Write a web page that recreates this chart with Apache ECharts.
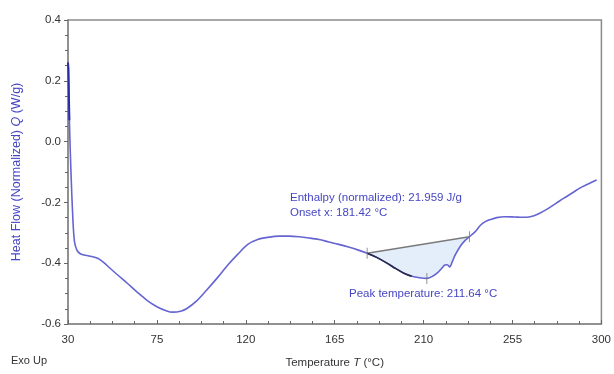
<!DOCTYPE html>
<html><head><meta charset="utf-8">
<script src="https://cdn.jsdelivr.net/npm/echarts@6/dist/echarts.min.js"></script>
<style>html,body{margin:0;padding:0;background:#fff}#c{width:614px;height:374px}</style>
</head><body><div id="c"></div>
<script>
// Temperature (°C)
const temps = [30.0,30.2,30.7,31.5,32.5,33.3,34.5,36,38,42,45,48,51,55,60,65,70,75,80,83,87,90,95,100,106,111,116,121,126,131,137,142,147,152,157,162,167,172,177,181.42,186,191,196,200,204,208,211.64,214,217,219,220.7,222,223.2,224.5,226,228.5,231,233.2,236,238.8,241,244,247,251,256,260,264,268,272.5,277,281,285,289,293,297.6];
// Heat flow (W/g)
const heatFlow = [0.26,0.24,0.07,-0.10,-0.26,-0.33,-0.357,-0.368,-0.373,-0.378,-0.384,-0.397,-0.415,-0.438,-0.466,-0.495,-0.522,-0.543,-0.557,-0.561,-0.558,-0.550,-0.525,-0.490,-0.445,-0.405,-0.370,-0.338,-0.322,-0.315,-0.311,-0.311,-0.313,-0.317,-0.322,-0.330,-0.338,-0.347,-0.357,-0.367,-0.380,-0.398,-0.418,-0.433,-0.443,-0.448,-0.450,-0.445,-0.432,-0.418,-0.406,-0.405,-0.412,-0.395,-0.373,-0.345,-0.325,-0.313,-0.297,-0.275,-0.264,-0.256,-0.250,-0.247,-0.248,-0.249,-0.247,-0.238,-0.222,-0.203,-0.186,-0.170,-0.153,-0.140,-0.126];
// Integration limits and peak
const onsetT = 181.42, endT = 233.2, peakT = 211.64;
const xTicks = [30,75,120,165,210,255,300];
const yTicks = [-0.6,-0.4,-0.2,0.0,0.2,0.4];

const curve = temps.map((t,i)=>[t,heatFlow[i]]);
const region = curve.filter(p=>p[0]>=onsetT && p[0]<=endT);
const onsetPt = region[0], endPt = region[region.length-1];
const peakPt = curve.find(p=>p[0]===peakT);
const darkSeg = curve.filter(p=>p[0]>=onsetT && p[0]<=205);

const chart = echarts.init(document.getElementById('c'));
const blue = '#4646c4';
chart.setOption({
  animation:false,
  grid:{left:68,right:10,top:20,bottom:50,show:true,borderColor:'#8a8a8a',borderWidth:1.5},
  xAxis:{type:'value',min:xTicks[0],max:xTicks[xTicks.length-1],interval:45,
    name:'{n|Temperature }{i|T}{n| (°C)}',nameLocation:'middle',nameGap:33,
    nameTextStyle:{rich:{n:{fontFamily:'Liberation Sans',fontSize:11.5,color:'#333'},i:{fontFamily:'Liberation Sans',fontSize:11.5,color:'#333',fontStyle:'italic'}}},
    axisLine:{onZero:false,lineStyle:{color:'#8a8a8a',width:1.5}},
    axisTick:{inside:true,length:4,lineStyle:{color:'#666'}},
    minorTick:{show:true,splitNumber:4,length:3,lineStyle:{color:'#666'}},
    splitLine:{show:false},
    axisLabel:{fontFamily:'Liberation Sans',fontSize:11.5,color:'#333',margin:10}},
  yAxis:{type:'value',min:yTicks[0],max:yTicks[yTicks.length-1],interval:0.2,
    name:'{n|Heat Flow (Normalized) }{i|Q}{n| (W/g)}',nameLocation:'middle',nameGap:45,nameRotate:90,
    nameTextStyle:{rich:{n:{fontFamily:'Liberation Sans',fontSize:12.5,color:blue},i:{fontFamily:'Liberation Sans',fontSize:12.5,color:blue,fontStyle:'italic'}}},
    axisLine:{onZero:false,lineStyle:{color:'#8a8a8a',width:1.5}},
    axisTick:{inside:false,length:4,lineStyle:{color:'#666'}},
    minorTick:{show:true,splitNumber:4,length:3,lineStyle:{color:'#666'}},
    splitLine:{show:false},
    axisLabel:{fontFamily:'Liberation Sans',fontSize:11.5,color:'#333',margin:7,formatter:v=>v.toFixed(1)}},
  series:[
    {type:'custom',renderItem:(params,api)=>{
        const pts = region.map(p=>api.coord(p));
        return {type:'polygon',shape:{points:pts},style:{fill:'#e4eefa',stroke:null}};
      },data:[[onsetT,onsetPt[1]]],z:1,silent:true},
    {type:'line',data:curve,showSymbol:false,smooth:0.3,lineStyle:{color:'#6464d2',width:1.6},z:3},
    {type:'line',data:curve.slice(0,3),showSymbol:false,lineStyle:{color:'#2c2ca8',width:2},z:3},
    {type:'line',data:[onsetPt,endPt],showSymbol:false,lineStyle:{color:'#7a7a7a',width:1.5},z:4},
    {type:'line',data:darkSeg,showSymbol:false,smooth:0.3,lineStyle:{color:'#2a2a48',width:1.6},z:5},
    {type:'scatter',data:[onsetPt,peakPt,endPt],symbol:'rect',symbolSize:[1,11],itemStyle:{color:'#777'},z:6,silent:true}
  ],
  graphic:[
    {type:'text',left:290,top:190,style:{text:'Enthalpy (normalized): 21.959 J/g\nOnset x: 181.42 °C',fill:blue,font:'11.5px "Liberation Sans"',lineHeight:15}},
    {type:'text',left:349,top:288,style:{text:'Peak temperature: 211.64 °C',fill:blue,font:'11.5px "Liberation Sans"'}},
    {type:'text',left:11,top:355,style:{text:'Exo Up',fill:'#333',font:'11px "Liberation Sans"'}}
  ]
});
</script></body></html>
